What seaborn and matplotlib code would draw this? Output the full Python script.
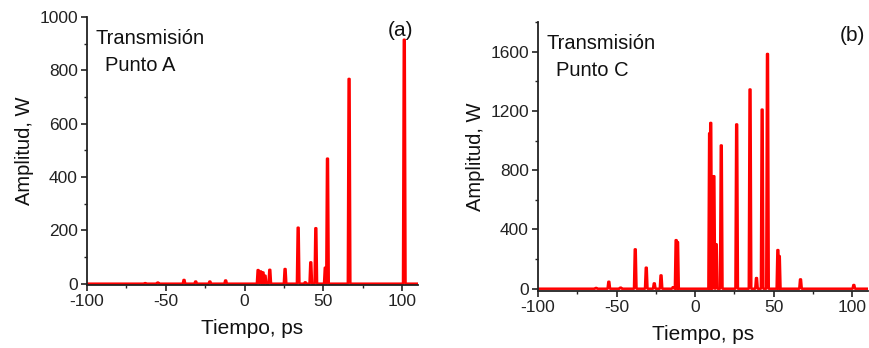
import numpy as np
import pandas as pd
import matplotlib
matplotlib.use("Agg")
import matplotlib.pyplot as plt
from matplotlib.ticker import MultipleLocator
import seaborn as sns

# Pulse positions (ps) and peak amplitudes (W) at point A
tiempo_a = [-63, -55, -38.4, -31, -22, -12, 8.6, 10.2, 11.7, 13.0, 16.0, 25.7,
            34.0, 38.5, 42.0, 45.2, 51.2, 52.6, 66.3, 101.3]
amplitud_a = [2, 4, 14, 8, 8, 12, 51, 46, 42, 30, 52, 55,
              210, 5, 80, 208, 60, 469, 768, 915]

# Pulse positions (ps) and peak amplitudes (W) at point C
tiempo_c = [-63, -54.9, -47.4, -38.1, -31.1, -26.0, -21.7, -14.0, -12.1, -11.2,
            9.2, 9.9, 11.9, 13.4, 16.6, 26.4, 34.9, 39.0, 42.6, 46.0,
            52.6, 53.5, 67.0, 100.9]
amplitud_c = [5, 47, 7, 266, 142, 36, 90, 10, 328, 315,
              1050, 1120, 760, 300, 968, 1110, 1346, 72, 1210, 1586,
              261, 220, 63, 25]


def tren_de_pulsos(t, a, w_base=0.8, w_top=0.3, t0=-100, t1=110):
    """Polyline of narrow trapezoidal pulses sitting on a zero baseline."""
    xs, ys = [t0], [0.0]
    for ti, ai in sorted(zip(t, a)):
        xs += [ti - w_base, ti - w_top, ti + w_top, ti + w_base]
        ys += [0.0, ai, ai, 0.0]
    xs.append(t1)
    ys.append(0.0)
    return pd.DataFrame({"Tiempo": xs, "Amplitud": ys})


sns.set_style("ticks")
plt.rcParams["font.family"] = ["Liberation Sans", "DejaVu Sans"]
plt.rcParams.update({
    "axes.unicode_minus": False,
    "axes.linewidth": 1.3,
    "xtick.major.width": 1.2, "ytick.major.width": 1.2,
    "xtick.minor.width": 1.0, "ytick.minor.width": 1.0,
    "xtick.major.size": 4.5, "ytick.major.size": 4.5,
    "xtick.minor.size": 2.5, "ytick.minor.size": 2.5,
    "xtick.direction": "out", "ytick.direction": "out",
    "xtick.color": "#222222", "ytick.color": "#222222",
    "axes.edgecolor": "#222222",
})

fig = plt.figure(figsize=(8.69, 3.48), dpi=100)
ax_a = fig.add_axes([0.100, 0.181, 0.381, 0.770])
ax_b = fig.add_axes([0.619, 0.164, 0.380, 0.772])

paneles = [
    (ax_a, tren_de_pulsos(tiempo_a, amplitud_a), (-5, 1000), 200, 100,
     "Transmisión", "Punto A", "(a)", 0.985),
    (ax_b, tren_de_pulsos(tiempo_c, amplitud_c), (-15, 1800), 400, 200,
     "Transmisión", "Punto C", "(b)", 0.99),
]

for ax, df, ylim, ymaj, ymin, l1, l2, tag, tag_x in paneles:
    sns.lineplot(data=df, x="Tiempo", y="Amplitud", ax=ax, estimator=None,
                 sort=False, color="#ff0000", linewidth=1.8)
    ax.set_xlim(-100, 110)
    ax.set_ylim(*ylim)
    ax.xaxis.set_major_locator(MultipleLocator(50))
    ax.xaxis.set_minor_locator(MultipleLocator(25))
    ax.yaxis.set_major_locator(MultipleLocator(ymaj))
    ax.yaxis.set_minor_locator(MultipleLocator(ymin))
    ax.tick_params(labelsize=12.5, labelcolor="#222222", pad=2)
    ax.set_xlabel("Tiempo, ps", fontsize=15, color="#111111", labelpad=7)
    ax.set_ylabel("Amplitud, W", fontsize=14.5, color="#111111", labelpad=4)
    sns.despine(ax=ax)
    ax.text(0.025, 0.92, l1, transform=ax.transAxes, fontsize=14.5,
            color="#111111", va="center", ha="left")
    ax.text(0.055, 0.82, l2, transform=ax.transAxes, fontsize=14.5,
            color="#111111", va="center", ha="left")
    ax.text(tag_x, 0.95, tag, transform=ax.transAxes,
            fontsize=15, color="#111111", va="center", ha="right")

fig.savefig("out.png", dpi=100)
